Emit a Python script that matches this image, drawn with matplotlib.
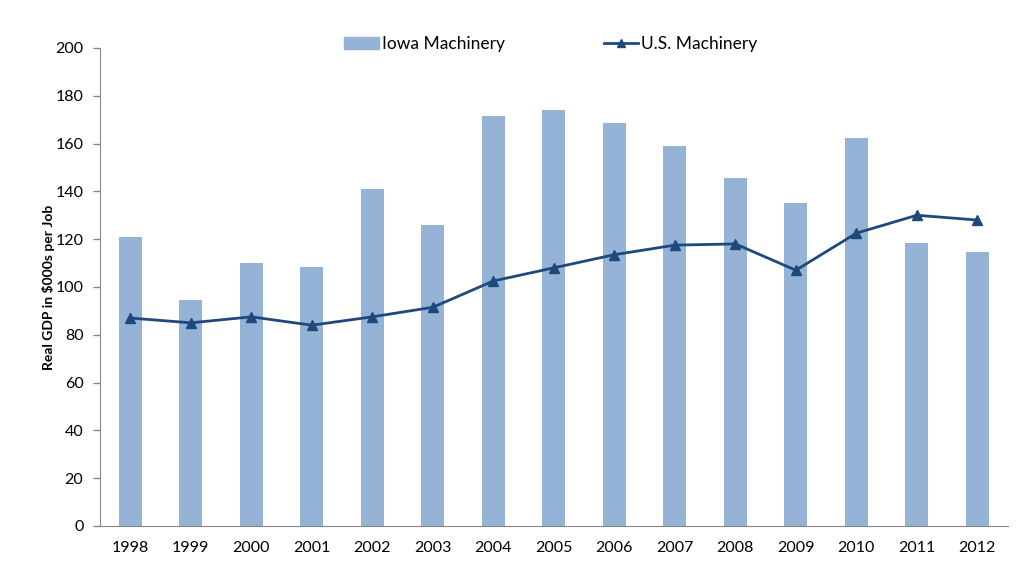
import numpy as np
import matplotlib.pyplot as plt
from matplotlib.patches import Patch
from matplotlib.lines import Line2D

plt.rcParams['font.family'] = ['Lato', 'DejaVu Sans']

years = ['1998', '1999', '2000', '2001', '2002', '2003', '2004', '2005',
         '2006', '2007', '2008', '2009', '2010', '2011', '2012']
iowa = [121, 94.5, 110, 108.5, 141, 126, 171.5, 174, 168.5, 159, 145.5, 135, 162.5, 118.5, 114.5]
us = [87, 85, 87.5, 84, 87.5, 91.5, 102.5, 108, 113.5, 117.5, 118, 107, 122.5, 130, 128]

bar_color = '#95B3D7'
line_color = '#1F497D'

fig = plt.figure(figsize=(10.24, 5.64), dpi=100)
ax = fig.add_axes([0.0977, 0.0674, 0.8863, 0.8476])

x = np.arange(len(years))
ax.bar(x, iowa, 0.38, color=bar_color, zorder=2)
ax.plot(x, us, color=line_color, linewidth=2, marker='^', markersize=7, zorder=3)

ax.set_xlim(-0.5, len(years) - 0.5)
ax.set_ylim(0, 200)
ax.set_yticks(range(0, 201, 20))
ax.set_xticks(x)
ax.set_xticklabels(years)
ax.tick_params(axis='x', length=0, pad=11, labelsize=11.5)
ax.tick_params(axis='y', length=5, color='#868686', width=1, pad=7, labelsize=11.5)

for s in ['top', 'right']:
    ax.spines[s].set_visible(False)
for s in ['left', 'bottom']:
    ax.spines[s].set_color('#868686')

ax.set_ylabel('Real GDP in $000s per Job', fontsize=10, fontweight='bold')
ax.yaxis.set_label_coords(-0.05, 0.5)

handles = [Patch(color=bar_color, label='Iowa Machinery'),
           Line2D([], [], color=line_color, linewidth=2, marker='^', markersize=6,
                  label='U.S. Machinery')]
fig.legend(handles=handles, loc='center', bbox_to_anchor=(0.538, 0.922), ncol=2,
           frameon=False, fontsize=12.5, columnspacing=5.7, handlelength=2.0,
           handletextpad=0.15)

fig.savefig('out.png', dpi=100)
